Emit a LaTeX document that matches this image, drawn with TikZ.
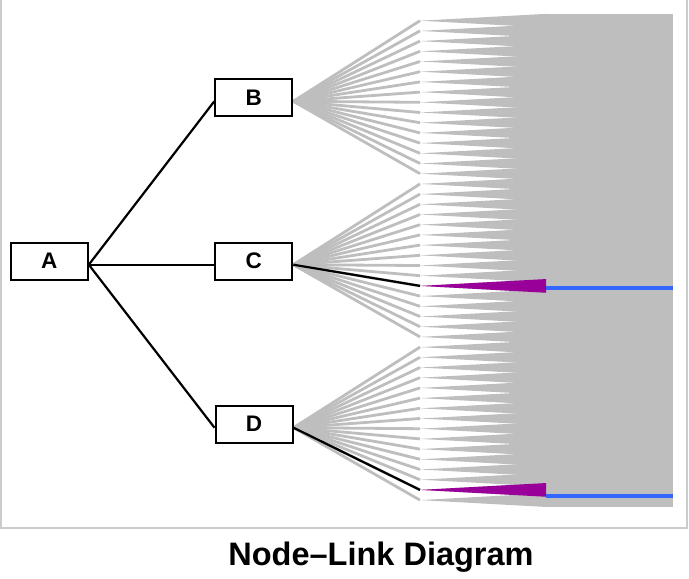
\documentclass[tikz,border=0pt]{standalone}
\usepackage{fontspec}
\setmainfont{Liberation Sans}
\usetikzlibrary{positioning}
\definecolor{lkgray}{RGB}{190,190,190}
\definecolor{frgray}{RGB}{204,204,204}
\definecolor{hipurple}{RGB}{153,0,153}
\definecolor{hiblue}{RGB}{51,102,255}
\tikzset{
  box/.style={draw=black, line width=2pt, fill=white, minimum width=77pt, minimum height=37pt,
    inner sep=0pt, font=\fontsize{22.5}{26}\selectfont\bfseries},
  fanline/.style={draw=lkgray, line width=2.8pt},
  wedge/.style={fill=lkgray},
  link/.style={draw=black, line width=2.2pt},
  hiwedge/.style={fill=hipurple},
  hilink/.style={draw=hiblue, line width=4pt},
  ttl/.style={font=\fontsize{32.5}{39}\selectfont\bfseries, anchor=base, inner sep=0pt},
}
\begin{document}
\begin{tikzpicture}[x=1pt, y=-1pt]
  \useasboundingbox (0,0) rectangle (689,579);
  % frame
  \draw[frgray, line width=2pt] (1,-5) rectangle (687,528);
  % leaves
  \foreach \i in {0,...,47} {
    \pgfmathsetmacro\ly{20.7+10.2*\i}
    \coordinate (l\i) at (420,\ly);
  }
  \foreach \i in {0,...,47}
    \fill[wedge] (l\i) -- ++(126,-6.85) -- ++(0,13.7) -- cycle;
  \fill[wedge] (546,13.85) rectangle (673,507);
  % nodes
  \node[box] (A) at (49.3,261.2) {A};
  \node[box] (B) at (253.8,97.8) {B};
  \node[box] (C) at (253.8,261.2) {C};
  \node[box] (D) at (254,424.2) {D};
  % fans
  \foreach \p [count=\g from 0] in {B,C,D}
    \foreach \j in {0,...,15} {
      \pgfmathtruncatemacro\k{16*\g+\j}
      \draw[fanline] ([yshift=-3.5pt]\p.east) -- (l\k);
    }
  \draw[link] ([yshift=-3.5pt]A.east) -- ([yshift=-3.5pt]B.west);
  \draw[link] ([yshift=-3.5pt]A.east) -- ([yshift=-3.5pt]C.west);
  \draw[link] ([yshift=-3.5pt]A.east) -- ([yshift=-3.5pt]D.west);
  \draw[link] ([yshift=-3.5pt]C.east) -- (l26);
  \draw[link] ([yshift=-3.5pt]D.east) -- (l46);
  % highlighted path
  \fill[hiwedge] (l26) -- ++(126,-6.85) -- ++(0,13.7) -- cycle;
  \fill[hiwedge] (l46) -- ++(126,-6.85) -- ++(0,13.7) -- cycle;
  \draw[hilink] (546,288) -- (673,288);
  \draw[hilink] (546,496) -- (673,496);
  % redraw boxes on top
  \node[box] at (A) {A};
  \node[box] at (B) {B};
  \node[box] at (C) {C};
  \node[box] at (D) {D};
  \node[ttl] (title) at (381,565.7) {Node–Link Diagram};
\end{tikzpicture}
\end{document}
